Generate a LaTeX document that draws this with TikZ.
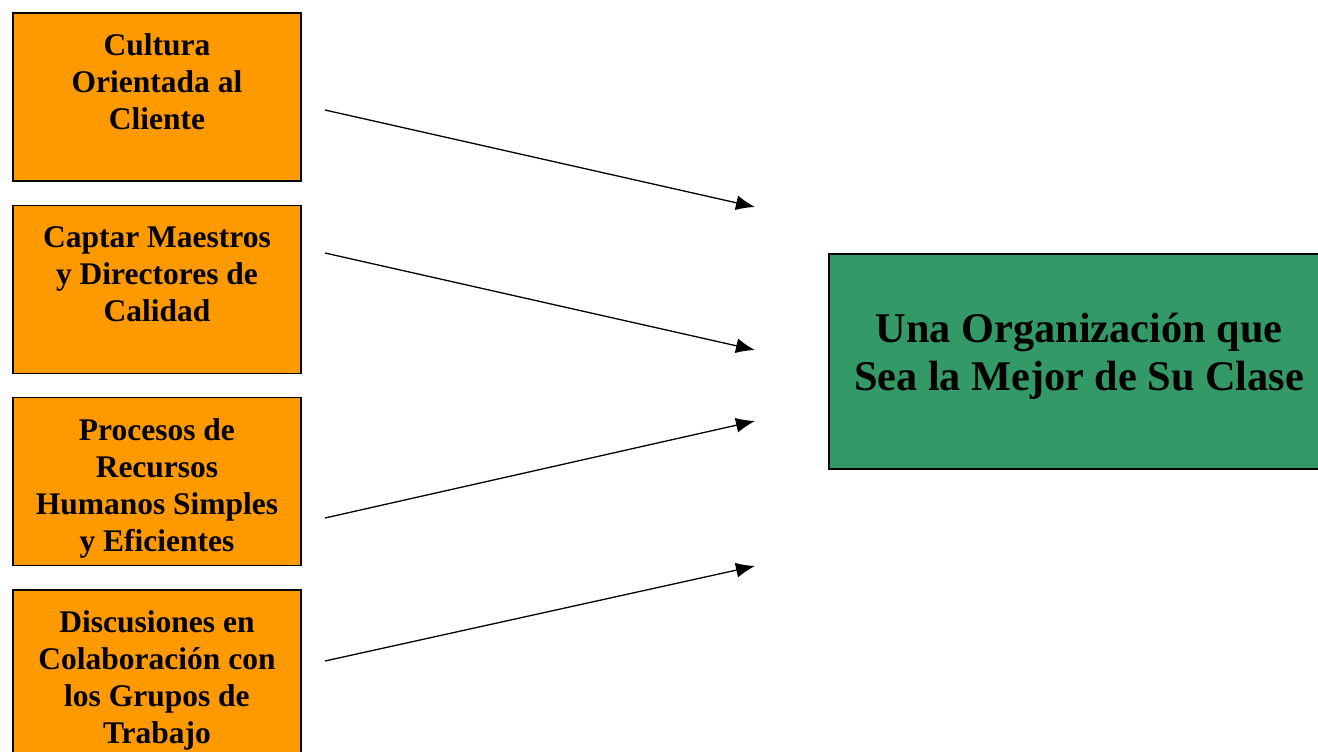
\documentclass[tikz,border=0pt]{standalone}
\usepackage{fontspec}
\setmainfont{Liberation Serif}
\usetikzlibrary{arrows.meta, positioning, calc}
\definecolor{naranja}{HTML}{FF9900}
\definecolor{verde}{HTML}{339966}
\newcommand\causatxt[1]{\parbox[c][166pt][t]{286pt}{\centering\fontsize{31.5}{37}\selectfont\bfseries\vspace*{20pt}#1\par}}
\newcommand\metatxt[1]{\parbox[c][213pt][t]{496pt}{\centering\fontsize{42.3}{48}\selectfont\bfseries\vspace*{58pt}#1\par}}

\begin{document}
\begin{tikzpicture}[x=1pt,y=-1pt]
              \tikzset{>={Latex[length=19pt,width=15pt]}}
              \tikzset{causa/.style={draw=black,line width=1.6pt,fill=naranja,inner sep=0pt,
                minimum width=288pt,minimum height=168pt}}
              \tikzset{meta/.style={draw=black,line width=1.6pt,fill=verde,inner sep=0pt,
                minimum width=500pt,minimum height=215pt}}
              \useasboundingbox (0,0) rectangle (1318,752);

              \node[causa] (cultura) at (157,97) {\causatxt{Cultura\\Orientada al\\Cliente}};
              \node[causa] (captar) at (157,289.5) {\causatxt{Captar Maestros\\y Directores de\\Calidad}};
              \node[causa] (procesos) at (157,481.5) {\causatxt{Procesos de\\Recursos\\Humanos Simples\\y Eficientes}};
              \node[causa] (discusiones) at (157,674) {\causatxt{Discusiones en\\Colaboración con\\los Grupos de\\Trabajo}};
              \node[meta] (organizacion) at (1079,361.5) {\metatxt{Una Organización que\\Sea la Mejor de Su Clase}};

              \coordinate (s1) at (325,110);
              \coordinate (s2) at (325,253);
              \coordinate (s3) at (325,518);
              \coordinate (s4) at (325,661);
              \coordinate (e1) at (755,207);
              \coordinate (e2) at (755,350);
              \coordinate (e3) at (755,421);
              \coordinate (e4) at (755,566);
              \foreach \i in {1,...,4}
                \draw[->,line width=1.3pt] (s\i) -- (e\i);
            \end{tikzpicture}
\end{document}
